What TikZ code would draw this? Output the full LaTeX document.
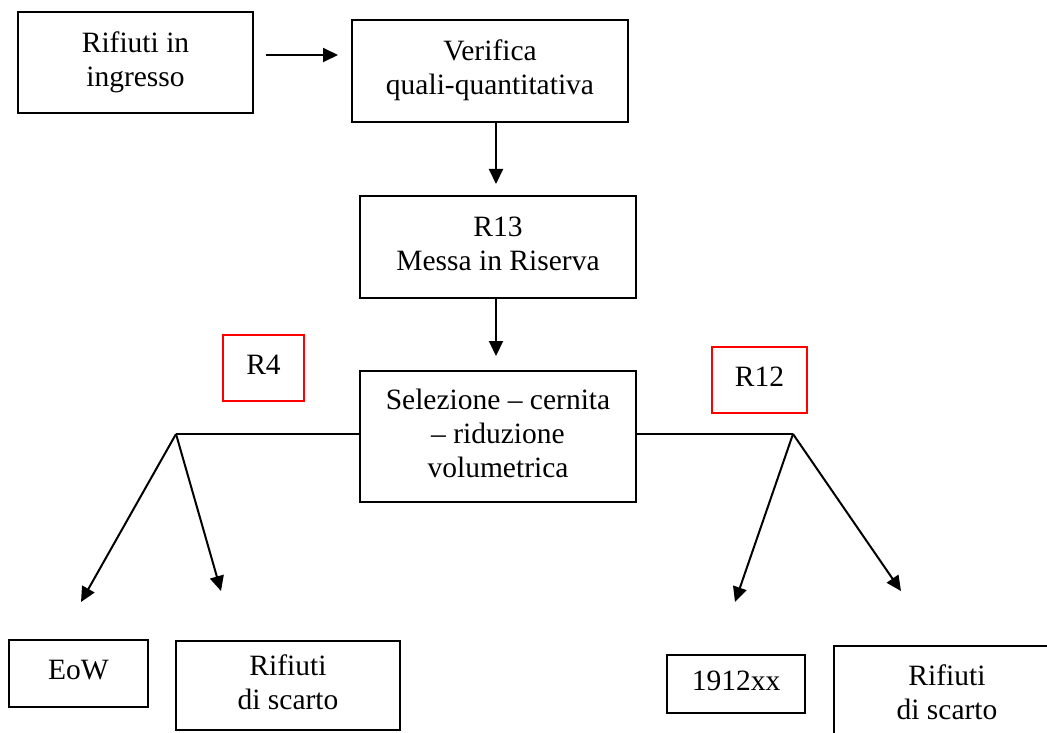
\documentclass[tikz,border=0pt]{standalone}
\usepackage{fontspec}
\setmainfont{Liberation Serif}
\usetikzlibrary{arrows.meta,calc}
\tikzset{
  box/.style={draw=black, line width=2pt, rectangle, inner sep=0pt, align=center,
    text depth=7pt, font=\fontsize{29.5}{34}\selectfont},
  redbox/.style={box, draw=red},
  conn/.style={line width=2pt, draw=black},
  arr/.style={conn, -{Triangle[length=15pt,width=14pt]}}
}
\begin{document}
\begin{tikzpicture}[x=1pt,y=-1pt]
\useasboundingbox (0,0) rectangle (1047,733);
\node[box, minimum width=235, minimum height=101] (in) at (135.5,62.5) {Rifiuti in\\ingresso};
\node[box, minimum width=276, minimum height=102] (ver) at (490,71) {Verifica\\quali-quantitativa};
\node[box, minimum width=276, minimum height=102] (r13) at (498,247) {R13\\Messa in Riserva};
\node[box, minimum width=276, minimum height=131] (sel) at (498,436.5) {Selezione -- cernita\\-- riduzione\\volumetrica};
\node[redbox, minimum width=81, minimum height=66] (r4) at (263.5,368) {R4};
\node[redbox, minimum width=95, minimum height=66] (r12) at (759.5,380) {R12};
\node[box, minimum width=139, minimum height=67] (eow) at (78.5,673.5) {EoW};
\node[box, minimum width=224, minimum height=89] (rs1) at (288,685.5) {Rifiuti\\di scarto};
\node[box, minimum width=138, minimum height=58] (x19) at (736,684) {1912xx};
\node[box, minimum width=226, minimum height=100] (rs2) at (947,696) {Rifiuti\\di scarto};
% connector points
\coordinate (a1s) at ($(in.east)+(12,-7.5)$);
\coordinate (a1e) at ($(ver.west |- a1s)+(-13,0)$);
\coordinate (a2s) at ($(ver.south)+(6,0)$);
\coordinate (a2e) at ($(a2s |- r13.north)+(0,-11)$);
\coordinate (a3s) at ($(r13.south)+(-2,0)$);
\coordinate (a3e) at ($(a3s |- sel.north)+(0,-14)$);
\coordinate (L) at (176,434);
\coordinate (R) at (793,434);
\coordinate (t1) at (81,602);
\coordinate (t2) at (221,591);
\coordinate (t3) at (735,602);
\coordinate (t4) at (901,591);
\draw[arr] (a1s) -- (a1e);
\draw[arr] (a2s) -- (a2e);
\draw[arr] (a3s) -- (a3e);
\draw[conn] (sel.west |- L) -- (L);
\draw[conn] (sel.east |- R) -- (R);
\draw[arr] (L) -- (t1);
\draw[arr] (L) -- (t2);
\draw[arr] (R) -- (t3);
\draw[arr] (R) -- (t4);
\end{tikzpicture}
\end{document}
